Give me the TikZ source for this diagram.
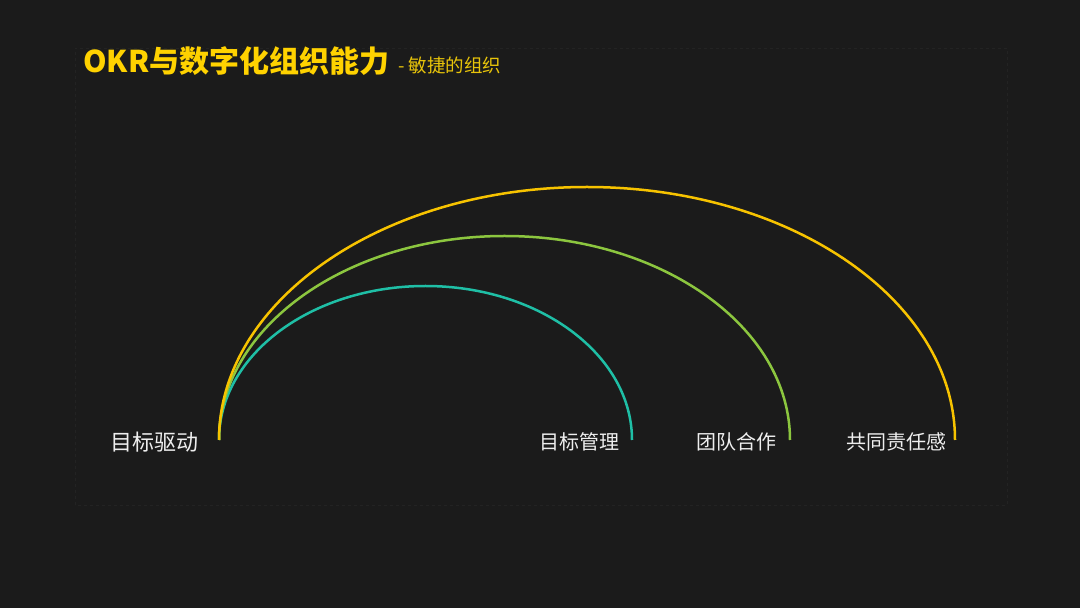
\documentclass[tikz,border=0pt]{standalone}
\usepackage{fontspec}
\newfontfamily\cjk{Noto Sans CJK SC}
\definecolor{bgdark}{HTML}{1B1B1B}
\definecolor{framegray}{HTML}{232323}
\definecolor{titleyellow}{HTML}{FFD200}
\definecolor{subyellow}{HTML}{E8C40A}
\definecolor{arcteal}{HTML}{1FBFA6}
\definecolor{arcgreen}{HTML}{8CC63F}
\definecolor{arcyellow}{HTML}{F7C300}
\definecolor{labelwhite}{HTML}{EEEEEE}
\begin{document}
\begin{tikzpicture}[x=1pt, y=1pt,
		arc line/.style={line width=2.5pt},
		label text/.style={text=labelwhite, anchor=east, inner sep=0pt, font=\cjk\fontsize{20}{24}\selectfont}]
			%background and faint frame
			\fill[bgdark] (0,0) rectangle (1080,608);
			\useasboundingbox (0,0) rectangle (1080,608);
			\draw[framegray, dashed, line width=0.8pt] (75,103) rectangle (1007,560);
			
			%title
			\node[anchor=base west, inner sep=0pt, text=titleyellow, font=\cjk\bfseries\fontsize{30}{36}\selectfont] (title) at (83,535){OKR与数字化组织能力};
			\node[anchor=base west, inner sep=0pt, text=subyellow, font=\cjk\fontsize{18.5}{22}\selectfont] (subtitle) at (398,535){- 敏捷的组织};
			
			%arc ends
			\coordinate (start) at (219,168);
			\coordinate (endteal) at (632,168);
			\coordinate (endgreen) at (790,168);
			\coordinate (endyellow) at (955,168);
			
			%arcs
			\draw[arc line, arcteal] (start) arc[start angle=180, end angle=0, x radius=206.5, y radius=154];
			\draw[arc line, arcgreen] (start) arc[start angle=180, end angle=0, x radius=285.5, y radius=204];
			\draw[arc line, arcyellow] (start) arc[start angle=180, end angle=0, x radius=368, y radius=253];
			
			%labels
			\node[label text, font=\cjk\fontsize{22}{26}\selectfont] (goaldrive) at (199,166){目标驱动};
			\node[label text] (goalmgmt) at (620,166){目标管理};
			\node[label text] (teamwork) at (777,166){团队合作};
			\node[label text] (duty) at (947,166){共同责任感};
		\end{tikzpicture}
\end{document}
